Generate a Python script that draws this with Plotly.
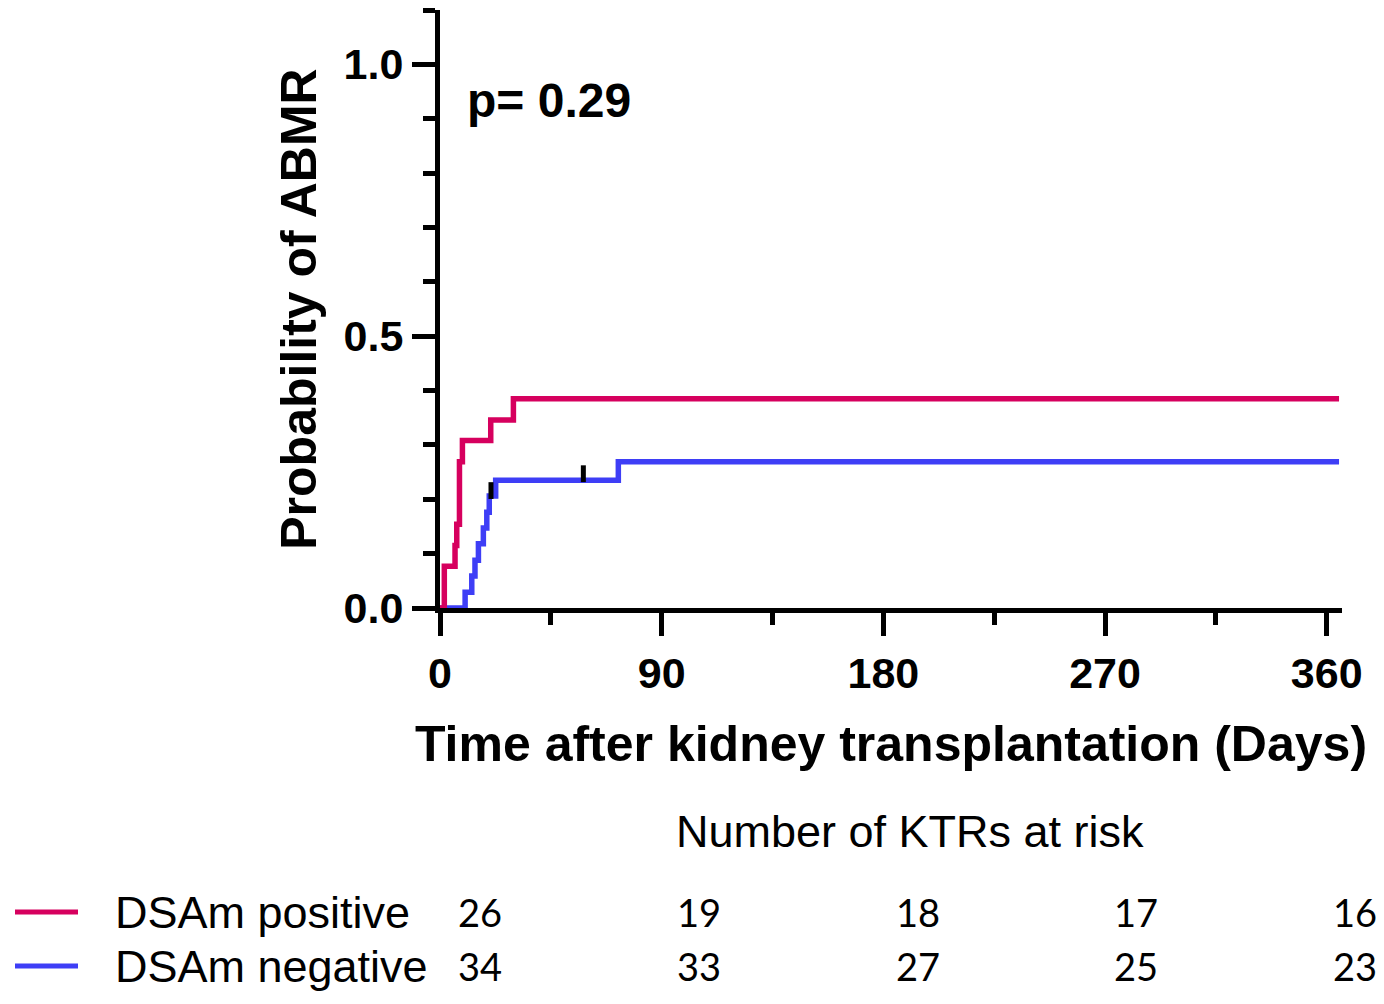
import plotly.graph_objects as go

# Kaplan-Meier style cumulative incidence of ABMR
pos_days = [0, 1.75, 6.1, 6.8, 7.9, 9.1, 20.6, 29.8, 365]
pos_prob = [0, 0.077, 0.115, 0.154, 0.269, 0.308, 0.346, 0.385, 0.385]

neg_days = [0, 10.2, 12.9, 14.2, 15.6, 17.6, 19.0, 20.0, 22.6, 72.4, 365]
neg_prob = [0, 0.029, 0.059, 0.088, 0.118, 0.147, 0.176, 0.206, 0.235, 0.269, 0.269]

# censored observations (black tick marks)
cens_days = [20.7, 58.2]
cens_prob = [0.216, 0.247]

# number at risk table
risk_days = [0, 90, 180, 270, 360]
risk_pos = [26, 19, 18, 17, 16]
risk_neg = [34, 33, 27, 25, 23]

group_names = ["DSAm positive", "DSAm negative"]
PINK = "#D6005E"
BLUE = "#3E3EF6"

FONT = "Arial, Liberation Sans, sans-serif"

# the page body has an 8px margin, so the figure is drawn 8px in from the corner
OFF = 8
W, H = 1384 - OFF, 1004 - OFF
L, R, T, B = 440 - OFF, 42, 10 - OFF, 396
pw, ph = W - L - R, H - T - B


def px_x(p):
    # screen pixel -> paper x
    return (p - OFF - L) / pw


def px_y(p):
    # screen pixel -> paper y
    return (H - B - (p - OFF)) / ph


fig = go.Figure()

fig.add_trace(go.Scatter(x=neg_days, y=neg_prob, mode="lines", line_shape="hv",
                         line=dict(color=BLUE, width=5.5), cliponaxis=False,
                         name=group_names[1]))
fig.add_trace(go.Scatter(x=pos_days, y=pos_prob, mode="lines", line_shape="hv",
                         line=dict(color=PINK, width=5.5), cliponaxis=False,
                         name=group_names[0]))
fig.add_trace(go.Scatter(x=cens_days, y=cens_prob, mode="markers",
                         marker=dict(symbol="line-ns", size=12,
                                     line=dict(color="black", width=5)),
                         cliponaxis=False, showlegend=False))

axis_common = dict(
    showgrid=False, zeroline=False, showline=True, linecolor="black", linewidth=5,
    ticks="outside", ticklen=23, tickwidth=5, tickcolor="black",
    tickfont=dict(family=FONT, size=43, color="black", weight="bold"),
    layer="below traces",
)

fig.update_xaxes(
    range=[0, 366.2], tickvals=[0, 90, 180, 270, 360],
    minor=dict(tickvals=[45, 135, 225, 315], ticklen=12, tickwidth=5,
               tickcolor="black", ticks="outside"),
    title=dict(text="Time after kidney transplantation (Days)", standoff=32,
               font=dict(family=FONT, size=50, color="black", weight="bold")),
    **axis_common,
)
fig.update_yaxes(
    range=[0, 1.1], tickvals=[0, 0.5, 1.0], ticktext=["0.0", "0.5", "1.0"],
    minor=dict(dtick=0.1, ticklen=12, tickwidth=5, tickcolor="black",
               ticks="outside"),
    title=dict(text="Probability of ABMR", standoff=13,
               font=dict(family=FONT, size=50, color="black", weight="bold")),
    **axis_common,
)

# p value
fig.add_annotation(x=px_x(465), y=px_y(100), xref="paper", yref="paper", text="p= 0.29",
                   showarrow=False, xanchor="left", yanchor="middle",
                   font=dict(family=FONT, size=48, color="black", weight="bold"))

# number at risk block below the axis
fig.add_annotation(x=px_x(910), y=px_y(831), xref="paper", yref="paper",
                   text="Number of KTRs at risk", showarrow=False,
                   xanchor="center", yanchor="middle",
                   font=dict(family=FONT, size=45, color="black"))

rows = [(risk_pos, PINK, group_names[0], 912), (risk_neg, BLUE, group_names[1], 966)]
for counts, col, label, ypix in rows:
    fig.add_shape(type="line", xref="paper", yref="paper",
                  x0=px_x(15), x1=px_x(78), y0=px_y(ypix), y1=px_y(ypix),
                  line=dict(color=col, width=5))
    fig.add_annotation(x=px_x(113), y=px_y(ypix), xref="paper", yref="paper",
                       text=label, showarrow=False, xanchor="left", yanchor="middle",
                       font=dict(family=FONT, size=45, color="black"))
    for d, n in zip(risk_days, counts):
        xp = 480 + d * (1355 - 480) / 360
        fig.add_annotation(x=px_x(xp), y=px_y(ypix), xref="paper", yref="paper",
                           text=str(n), showarrow=False,
                           xanchor="center", yanchor="middle",
                           font=dict(family="Lato, sans-serif", size=38, color="black"))

fig.update_layout(
    width=W, height=H,
    margin=dict(l=L, r=R, t=T, b=B),
    plot_bgcolor="white", paper_bgcolor="white",
    showlegend=False,
)

fig.write_html("out.html")
